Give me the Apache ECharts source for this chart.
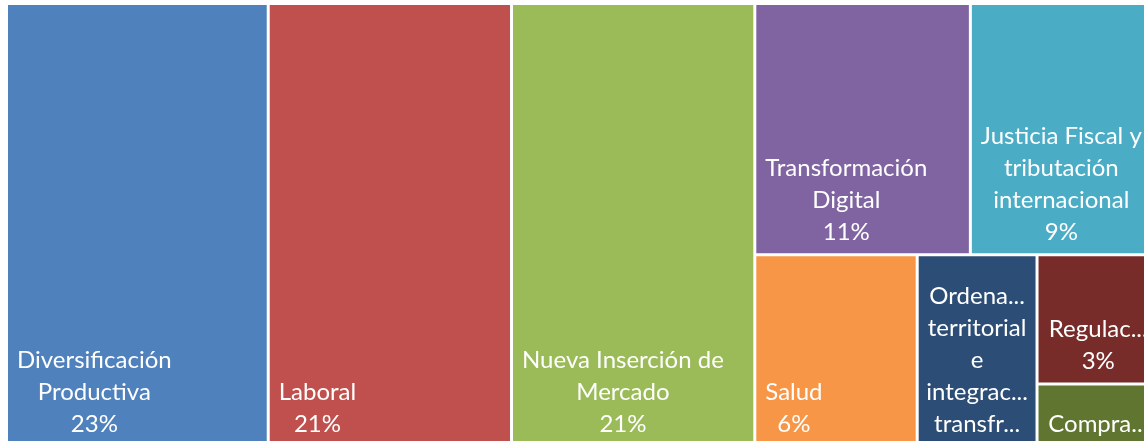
<!DOCTYPE html>
<html>
<head>
<meta charset="utf-8">
<script src="https://cdn.jsdelivr.net/npm/echarts@6/dist/echarts.min.js"></script>
<style>
  html, body { margin: 0; padding: 0; background: #fff; }
  #chart { width: 1144px; height: 441px; }
</style>
</head>
<body>
<div id="chart"></div>
<script>
// name lines follow the word wrap of the original
const categories = [
  'Diversificación\nProductiva',
  'Laboral',
  'Nueva Inserción de\nMercado',
  'Transformación\nDigital',
  'Justicia Fiscal y\ntributación\ninternacional',
  'Salud',
  'Ordenamiento\nterritorial\ne\nintegración\ntransfronteriza',
  'Regulación',
  'Compras Públicas'
]
const values = [22.7, 21.1, 21.1, 10.6, 9.3, 6.1, 4.5, 3.1, 1.5]
const colors = [
  '#4F81BD', '#C0504D', '#9BBB59', '#8064A2', '#4BACC6',
  '#F79646', '#2C4D75', '#772C2A', '#5F7530'
]

const FONT = 'Lato'
const FONT_SIZE = 24
const LINE_H = 32
const PAD = 9
const SIDE = 7 // room kept at each side when a line is cut with "..."

const chart = echarts.init(document.getElementById('chart'))

function labelText(name, value) {
  return name + '\n' + Math.round(value) + '%'
}

function buildOption(labelX) {
  return {
    animation: false,
    series: [
      {
        type: 'treemap',
        left: 8,
        top: 5,
        width: 1150,
        height: 440,
        roam: false,
        nodeClick: false,
        sort: false, // already largest first, keeps Laboral before Nueva Inserción
        squareRatio: 1,
        breadcrumb: { show: false },
        levels: [
          { itemStyle: { borderWidth: 0, gapWidth: 3, borderColor: '#fff' } },
          { itemStyle: { borderWidth: 0, gapWidth: 0 } },
        ],
        label: {
          show: true,
          color: '#fff',
          fontFamily: FONT,
          fontSize: FONT_SIZE,
          lineHeight: LINE_H,
          padding: [0, SIDE],
          align: 'center',
          verticalAlign: 'bottom',
          overflow: 'truncate',
          ellipsis: '...',
          formatter: p => labelText(p.name, p.value),
        },
        data: categories.map((name, i) => ({
          name,
          value: values[i],
          itemStyle: { color: colors[i] },
          label: labelX
            ? { position: [labelX[i], '100%'], offset: [0, -5] }
            : { position: 'insideBottom' },
        })),
      },
    ],
  }
}

chart.setOption(buildOption(null))

// lines are centred on each other, the block sits at the left of its cell
const ctx = document.createElement('canvas').getContext('2d')
ctx.font = FONT_SIZE + 'px ' + FONT
const nodes = chart.getModel().getSeriesByIndex(0).getData().tree.root.children
const labelX = categories.map((name, i) => {
  const node = nodes.find(n => n.name === name)
  const w = node ? node.getLayout().width : 0
  const avail = w - 2 * PAD
  const lines = labelText(name, values[i]).split('\n')
  const blockW = Math.max(...lines.map(l => ctx.measureText(l).width))
  if (blockW >= avail)
    return w / 2
  return PAD + blockW / 2
})

chart.setOption(buildOption(labelX), true)
</script>
</body>
</html>
